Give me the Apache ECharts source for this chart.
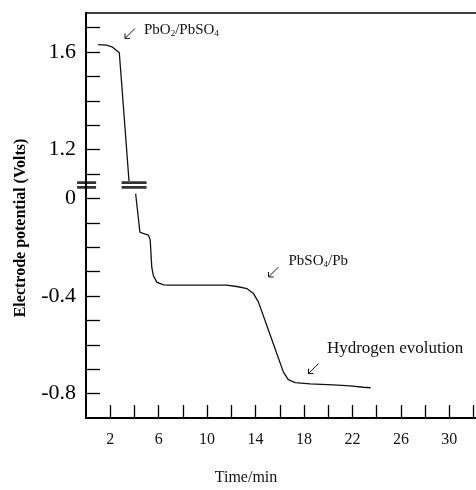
<!DOCTYPE html>
<html>
<head>
<meta charset="utf-8">
<script src="https://cdn.jsdelivr.net/npm/echarts@6/dist/echarts.min.js"></script>
<style>
html, body { margin: 0; padding: 0; background: #fff; }
#chart { width: 476px; height: 490px; }
</style>
</head>
<body>
<div id="chart"></div>
<script>
// curve above the axis break (real volts)
var upperTime  = [1.0, 1.7, 2.2, 2.5, 2.75, 3.15, 3.55];
var upperVolts = [1.630, 1.628, 1.620, 1.607, 1.597, 1.336, 1.071];
// curve below the axis break
var lowerTime  = [4.1, 4.45, 4.65, 5.15, 5.3, 5.43, 5.56, 5.84, 6.4, 6.8, 11.6, 12.45, 13.3, 13.83, 14.24, 15.2, 16.3, 16.7, 17.27, 18.5, 20.4, 21.8, 22.9, 23.5];
var lowerVolts = [0.019, -0.138, -0.142, -0.150, -0.170, -0.282, -0.316, -0.343, -0.354, -0.355, -0.355, -0.361, -0.370, -0.390, -0.425, -0.559, -0.712, -0.743, -0.755, -0.760, -0.764, -0.768, -0.774, -0.776];

var xTicks  = [2, 4, 6, 8, 10, 12, 14, 16, 18, 20, 22, 24, 26, 28, 30, 32];
var xLabels = [2, 6, 10, 14, 18, 22, 26, 30];
var yTicks  = [1.7, 1.6, 1.5, 1.4, 1.3, 1.2, 1.1, 0, -0.1, -0.2, -0.3, -0.4, -0.5, -0.6, -0.7, -0.8];
var yLabels = [1.6, 1.2, 0, -0.4, -0.8];

// values from 1.1 V upward are drawn shifted down by 1 V (broken axis)
var breakOffset = 1.0;
var breakAt = 0.055;
function toAxis(v) { return v > 0.5 ? v - breakOffset : v; }
function fromAxis(v) { return v > breakAt ? v + breakOffset : v; }

var annotations = [
    { rich: 'PbO{s|2}/PbSO{s|4}', tip: [3.22, 1.656], label: [4.79, 1.689], size: 15 },
    { rich: 'PbSO{s|4}/Pb', tip: [15.07, -0.322], label: [16.72, -0.258], size: 15 },
    { rich: 'Hydrogen evolution', tip: [18.37, -0.718], label: [19.89, -0.616], size: 17 }
];

var serif = 'Liberation Serif';
var myChart = echarts.init(document.getElementById('chart'));

option = {
    animation: false,
    grid: { left: 86, right: 0, top: 13, bottom: 72 },
    xAxis: [
        {
            type: 'value',
            min: 0,
            max: 32.2,
            interval: 2,
            axisLine: { onZero: false, lineStyle: { color: '#000', width: 2 } },
            axisTick: {
                inside: true,
                length: 13,
                customValues: xTicks,
                lineStyle: { color: '#000', width: 1.3 }
            },
            axisLabel: {
                customValues: xLabels,
                margin: 14,
                color: '#111',
                fontFamily: serif,
                fontSize: 16
            },
            splitLine: { show: false }
        },
        {
            type: 'value',
            position: 'top',
            min: 0,
            max: 32.2,
            axisLine: { show: true, onZero: false, lineStyle: { color: '#000', width: 1.5 } },
            axisTick: { show: false },
            axisLabel: { show: false },
            splitLine: { show: false }
        }
    ],
    yAxis: {
        type: 'value',
        min: -0.9,
        max: 0.76,
        interval: 0.1,
        axisLine: { onZero: false, lineStyle: { color: '#000', width: 2 } },
        axisTick: {
            inside: true,
            length: 14,
            customValues: yTicks.map(toAxis),
            lineStyle: { color: '#000', width: 1.3 }
        },
        axisLabel: {
            customValues: yLabels.map(toAxis),
            margin: 10,
            color: '#000',
            fontFamily: serif,
            fontSize: 22,
            formatter: function (v) {
                var a = fromAxis(v);
                return Math.abs(a) < 1e-6 ? '0' : a.toFixed(1);
            }
        },
        splitLine: { show: false }
    },
    series: [
        {
            type: 'line',
            symbol: 'none',
            lineStyle: { color: '#111', width: 1.3 },
            data: upperTime.map(function (t, i) { return [t, toAxis(upperVolts[i])]; })
        },
        {
            type: 'line',
            symbol: 'none',
            lineStyle: { color: '#111', width: 1.3 },
            data: lowerTime.map(function (t, i) { return [t, lowerVolts[i]]; })
        },
        {
            // break marks on the axis and on the curve
            type: 'scatter',
            clip: false,
            symbol: 'path://M0,0H20V3H0Z M0,5H20V8H0Z',
            itemStyle: { color: '#000' },
            data: [
                { value: [0.05, breakAt], symbolSize: [19, 7.6] },
                { value: [3.97, breakAt], symbolSize: [25, 7.6] }
            ]
        }
    ]
};
myChart.setOption(option);

var graphics = [
    {
        type: 'text',
        x: 21, y: 228,
        rotation: Math.PI / 2,
        style: {
            text: 'Electrode potential (Volts)',
            font: 'bold 16px "Liberation Serif"',
            fill: '#000',
            align: 'center',
            verticalAlign: 'middle'
        }
    },
    {
        type: 'text',
        x: 246, y: 478,
        style: {
            text: 'Time/min',
            font: '16px "Liberation Serif"',
            fill: '#111',
            align: 'center',
            verticalAlign: 'middle'
        }
    }
];

annotations.forEach(function (a) {
    var tip = myChart.convertToPixel({ gridIndex: 0 }, [a.tip[0], toAxis(a.tip[1])]);
    var lab = myChart.convertToPixel({ gridIndex: 0 }, [a.label[0], toAxis(a.label[1])]);
    graphics.push({
        type: 'polyline',
        shape: { points: [[tip[0] + 10, tip[1] - 10], tip] },
        style: { stroke: '#111', lineWidth: 1, fill: null }
    });
    graphics.push({
        type: 'polyline',
        shape: { points: [[tip[0], tip[1] - 5], tip, [tip[0] + 5, tip[1]]] },
        style: { stroke: '#111', lineWidth: 1, fill: null }
    });
    graphics.push({
        type: 'text',
        x: lab[0], y: lab[1],
        style: {
            text: a.rich,
            fontFamily: serif,
            fontSize: a.size,
            fill: '#111',
            align: 'left',
            verticalAlign: 'middle',
            rich: {
                s: { fontFamily: serif, fontSize: 9, padding: [7, 0, 0, 0], fill: '#111' }
            }
        }
    });
});

myChart.setOption({ graphic: graphics });
</script>
</body>
</html>
